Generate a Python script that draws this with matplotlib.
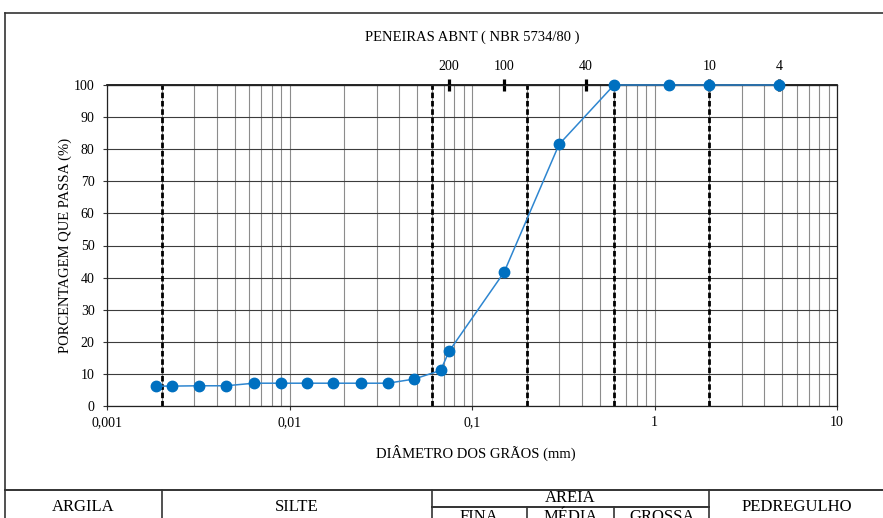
import matplotlib
matplotlib.use("Agg")
from matplotlib import pyplot as plt
from matplotlib import transforms
from matplotlib.lines import Line2D
from matplotlib.ticker import FixedLocator, NullFormatter, LogLocator

plt.rcParams['font.family'] = ['Liberation Serif', 'DejaVu Serif']

# grain size curve (mm, % passing)
diametro = [0.00186, 0.00228, 0.00319, 0.00449, 0.00637, 0.00896, 0.0125, 0.0173,
            0.0245, 0.0345, 0.0483, 0.0673, 0.075, 0.15, 0.30, 0.60, 1.2, 2.0, 4.8]
passa = [6.2, 6.2, 6.3, 6.3, 7.1, 7.1, 7.1, 7.1, 7.1, 7.1, 8.4, 11.1, 17.1, 41.7, 81.5,
         100, 100, 100, 100]

# ABNT sieves
peneiras_mm = [0.075, 0.15, 0.42, 2.0, 4.8]
peneiras_lbl = ['200', '100', '40', '10', '4']

# limits between soil fractions
limites = [0.002, 0.06, 0.2, 0.6, 2.0]

x_ticks = [0.001, 0.01, 0.1, 1, 10]
x_tick_lbl = ['0,001', '0,01', '0,1', '1', '10']

W, H = 883, 518
fig = plt.figure(figsize=(W / 100, H / 100), dpi=100)
ax = fig.add_axes([107 / W, 1 - 406 / H, 730 / W, 321 / H])

ax.set_xscale('log')
ax.set_xlim(0.001, 10)
ax.set_ylim(0, 100)

ax.set_xticks(x_ticks)
ax.set_xticklabels(x_tick_lbl)
ax.xaxis.set_minor_locator(LogLocator(base=10, subs=range(2, 10)))
ax.xaxis.set_minor_formatter(NullFormatter())
ax.set_yticks(range(0, 101, 10))
ax.tick_params(axis='both', which='major', labelsize=10, length=3, width=0.8,
               direction='out', color='#333333')
ax.tick_params(axis='y', pad=6)
ax.tick_params(axis='x', pad=4)
ax.tick_params(axis='x', which='minor', length=0)

ax.grid(True, axis='x', which='both', color='#8c8c8c', linewidth=0.8)
ax.grid(True, axis='y', which='major', color='#3c3c3c', linewidth=0.8)
ax.set_axisbelow(True)
for s in ax.spines.values():
    s.set_color('#222222')
    s.set_linewidth(0.9)

for lim in limites:
    ax.axvline(lim, color='black', linewidth=2, linestyle=(0, (2, 1)), zorder=2)

ax.plot(diametro, passa, color='#2e86d0', linewidth=1.1, marker='o',
        markersize=7.5, markerfacecolor='#0070c0', markeredgecolor='#0070c0',
        zorder=4, clip_on=False)

# sieve axis on top
sec = ax.secondary_xaxis('top')
sec.xaxis.set_major_locator(FixedLocator(peneiras_mm))
sec.set_xticklabels(peneiras_lbl)
sec.xaxis.set_minor_locator(FixedLocator([]))
sec.tick_params(axis='x', direction='inout', length=9, width=2.3, color='black',
                labelsize=10, pad=4)
sec.spines['top'].set_color('black')
sec.spines['top'].set_linewidth(1.2)

fig.text(472 / W, 1 - 37 / H, 'PENEIRAS ABNT ( NBR 5734/80 )', ha='center',
         va='center', fontsize=10.5)
fig.text(476 / W, 1 - 453 / H, 'DIÂMETRO DOS GRÃOS (mm)', ha='center',
         va='center', fontsize=10.5)
fig.text(65 / W, 1 - 245 / H, 'PORCENTAGEM QUE PASSA (%)', ha='center',
         va='center', rotation=90, fontsize=10.5)

# outer frame and classification table
lc = '#333333'
fy = lambda p: 1 - p / H
fig.add_artist(Line2D([5 / W, 1.0], [fy(13), fy(13)], color=lc, lw=1.2))
fig.add_artist(Line2D([5 / W, 5 / W], [fy(13), 0], color=lc, lw=1.2))
fig.add_artist(Line2D([5 / W, 1.0], [fy(490), fy(490)], color=lc, lw=1.4))

bt = transforms.blended_transform_factory(ax.transData, fig.transFigure)
for lim in [0.002, 0.06, 2.0]:
    fig.add_artist(Line2D([lim, lim], [fy(490), 0], color=lc, lw=1.2, transform=bt))
for lim in [0.2, 0.6]:
    fig.add_artist(Line2D([lim, lim], [fy(507), 0], color=lc, lw=1.2, transform=bt))
fig.add_artist(Line2D([0.06, 2.0], [fy(507), fy(507)], color=lc, lw=1.4, transform=bt))

tk = dict(ha='center', va='center', fontsize=12, transform=bt)
fig.text(0.00074, fy(507), 'ARGILA', **tk)
fig.text(0.01095, fy(507), 'SILTE', **tk)
fig.text(0.346, fy(498.5), 'AREIA', **tk)
fig.text(6.04, fy(507), 'PEDREGULHO', **tk)
fig.text(0.1095, fy(517), 'FINA', **tk)
fig.text(0.346, fy(517), 'MÉDIA', **tk)
fig.text(1.095, fy(517), 'GROSSA', **tk)

fig.savefig('out.png', dpi=100)
